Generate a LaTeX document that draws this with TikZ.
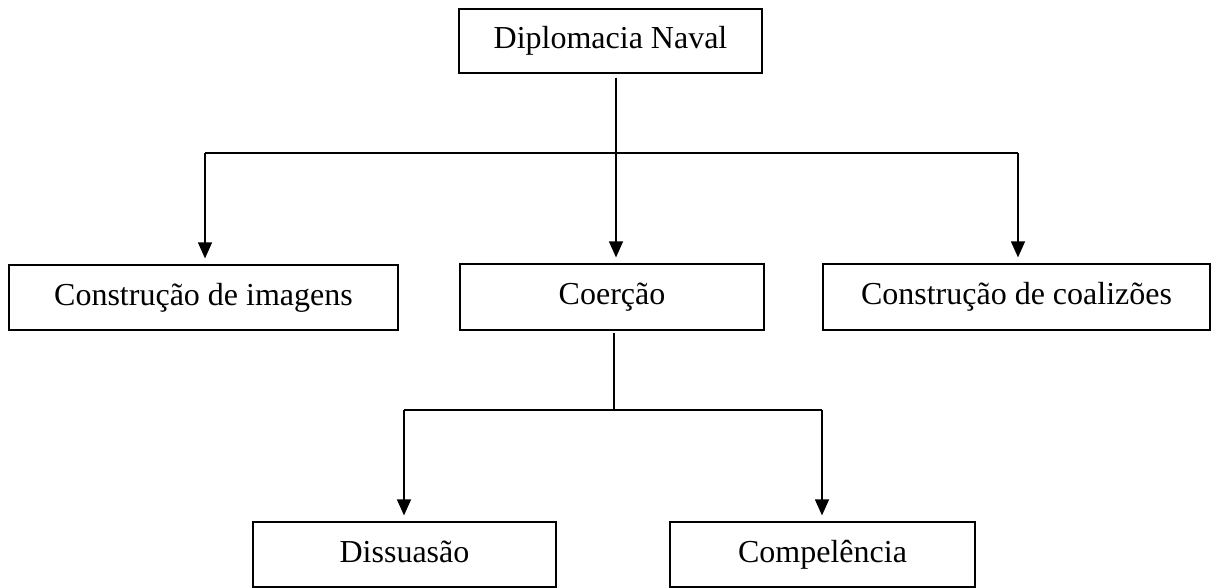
\documentclass[tikz,border=0pt]{standalone}
\usepackage{fontspec}
\setmainfont{Liberation Serif}
\usetikzlibrary{arrows.meta}
\begin{document}
\begin{tikzpicture}[x=1pt,y=-1pt,
  box/.style={draw,line width=1.2pt,rectangle,inner sep=0pt,font=\fontsize{32}{36}\selectfont,text height=22pt,text depth=7pt},
  conn/.style={line width=1.2pt},
  arr/.style={conn,-{Triangle[width=14pt,length=16pt]},shorten >=6pt}]
\useasboundingbox (0,0) rectangle (1212,588);
\node[box,minimum width=303pt,minimum height=64pt] (top) at (610.5,41) {Diplomacia Naval};
\node[box,minimum width=389pt,minimum height=65pt] (img) at (203.5,297.5) {Construção de imagens};
\node[box,minimum width=304pt,minimum height=66pt] (coe) at (612,297) {Coerção};
\node[box,minimum width=387pt,minimum height=66pt] (coa) at (1016.5,297) {Construção de coalizões};
\node[box,minimum width=303pt,minimum height=65pt] (dis) at (404.5,554.5) {Dissuasão};
\node[box,minimum width=305pt,minimum height=65pt] (com) at (822.5,554.5) {Compelência};
\coordinate (j1) at (616,153);
\coordinate (jl) at (205,153);
\coordinate (jr) at (1018,153);
\coordinate (k1) at (614,410);
\coordinate (kl) at (404,410);
\coordinate (kr) at (822,410);
\draw[conn] ([yshift=-4pt]top.south -| j1) -- (j1);
\draw[conn] (jl) -- (jr);
\draw[arr] (jl) -- (img.north -| jl);
\draw[arr] (j1) -- (coe.north -| j1);
\draw[arr] (jr) -- (coa.north -| jr);
\draw[conn] ([yshift=-2pt]coe.south -| k1) -- (k1);
\draw[conn] (kl) -- (kr);
\draw[arr] (kl) -- (dis.north -| kl);
\draw[arr] (kr) -- (com.north -| kr);
\end{tikzpicture}
\end{document}
